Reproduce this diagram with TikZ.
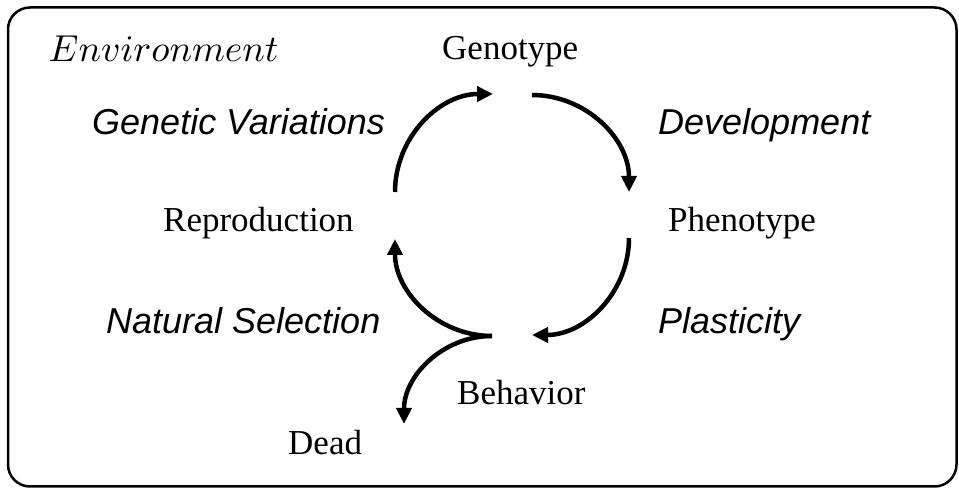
\documentclass[tikz,border=0pt]{standalone}
\usepackage{fontspec}
\setmainfont{Liberation Serif}
\newfontfamily\helv{Liberation Sans}
\usetikzlibrary{arrows.meta}
\tikzset{
  lbl/.style={font=\fontsize{35}{40}\selectfont, inner sep=0pt, anchor=base west},
  proc/.style={font=\helv\itshape\fontsize{36}{42}\selectfont, inner sep=0pt, anchor=base west},
  flow/.style={line width=4.5pt, -{Triangle[length=16pt,width=15pt]}},
  frame/.style={line width=2.5pt, rounded corners=22pt}
}
\begin{document}
\begin{tikzpicture}[x=1pt,y=1pt]
\useasboundingbox (0,0) rectangle (959,489);
\draw[frame] (8,2.5) rectangle (956.5,481.5);
\node[anchor=base west, inner sep=0pt, scale=3.75] (env) at (48,427) {$Environment$};
\node[lbl] (geno) at (442,429) {Genotype};
\node[lbl] (repro) at (163,257) {Reproduction};
\node[lbl] (pheno) at (668,257) {Phenotype};
\node[lbl] (behav) at (457,84) {Behavior};
\node[lbl] (dead) at (288,34) {Dead};
\node[proc] (gv) at (92,354) {Genetic Variations};
\node[proc] (dev) at (658,354) {Development};
\node[proc] (ns) at (106,155) {Natural Selection};
\node[proc] (pl) at (658,155) {Plasticity};
\coordinate (a1) at (395,297);
\coordinate (b1) at (532,394);
\coordinate (c1) at (629,251);
\coordinate (j) at (492,153);
\draw[flow] (a1) arc[start angle=180, end angle=90, radius=98];
\draw[flow] (b1) arc[start angle=90, end angle=0, radius=97];
\draw[flow] (c1) arc[start angle=0, end angle=-90, radius=97];
\draw[flow] (j) arc[start angle=-90, end angle=-180, radius=97];
\draw[flow] (j) arc[start angle=90, end angle=180, x radius=88, y radius=88];
\end{tikzpicture}
\end{document}
